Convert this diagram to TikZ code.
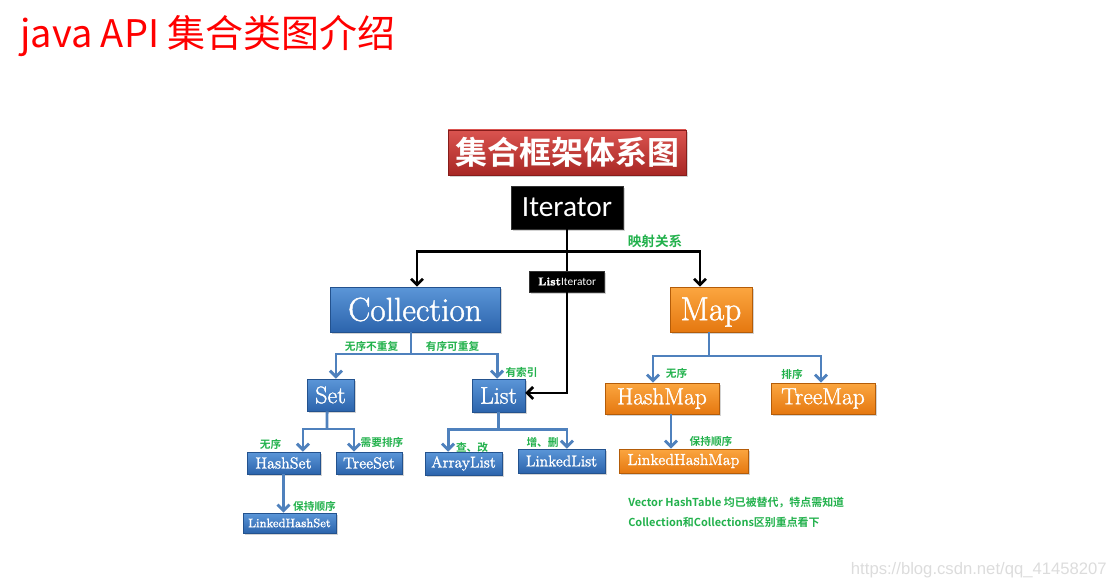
\documentclass[tikz,border=0pt]{standalone}
\usepackage{fontspec}
\usetikzlibrary{arrows.meta,calc,positioning,shadows}
\newfontfamily\cjk{Noto Sans CJK SC}[BoldFont={Noto Sans CJK SC Bold}]
\newfontfamily\calib{Carlito}
\newfontfamily\wmark{Liberation Sans}
\newfontfamily\boxfont{Latin Modern Roman}[FakeBold=1.3]
\definecolor{blueT}{HTML}{5B96D8}
\definecolor{blueB}{HTML}{2C64AC}
\definecolor{blueE}{HTML}{23528E}
\definecolor{orgT}{HTML}{FBA640}
\definecolor{orgB}{HTML}{E57810}
\definecolor{orgE}{HTML}{B45C08}
\definecolor{redT}{HTML}{DA5450}
\definecolor{redB}{HTML}{A82724}
\definecolor{redE}{HTML}{861C1A}
\definecolor{linkblue}{HTML}{4F81BD}
\definecolor{tipgreen}{HTML}{22B14C}
\definecolor{wmgray}{HTML}{DCDCDC}
\tikzset{
  bline/.style={draw=linkblue, line width=2.2pt},
  barr/.style={bline, -{Straight Barb[length=4.5pt,width=9pt]}},
  kline/.style={draw=black, line width=2pt},
  karr/.style={kline, -{Straight Barb[length=4.5pt,width=9pt]}},
  shbox/.style={inner sep=0pt, text=white, drop shadow={shadow xshift=1.2pt, shadow yshift=-1.5pt, opacity=0.35}},
  bluebox/.style={shbox, draw=blueE, top color=blueT, bottom color=blueB},
  orgbox/.style={shbox, draw=orgE, top color=orgT, bottom color=orgB},
  redbox/.style={shbox, draw=redE, top color=redT, bottom color=redB},
  blkbox/.style={shbox, draw=black!80, fill=black},
  tip/.style={text=tipgreen, inner sep=0pt, font=\cjk\bfseries\fontsize{8}{8}\selectfont},
  note/.style={text=tipgreen, inner sep=0pt, anchor=west, font=\cjk\bfseries\fontsize{8.2}{8.2}\selectfont}
}
\newcommand{\fs}[1]{\boxfont\fontsize{#1}{#1}\selectfont}

\begin{document}
\begin{tikzpicture}[x=0.75pt, y=-0.75pt]
  \useasboundingbox (0,0) rectangle (1117,588);
  \node[anchor=west, text=red, inner sep=0pt, font=\cjk\fontsize{28.5}{28.5}\selectfont] (title) at (20,36) {java API 集合类图介绍};

  % top of the tree
  \node[redbox, minimum width=178.5pt, minimum height=33.75pt, font=\cjk\bfseries\fontsize{24}{24}\selectfont] (frame) at (567,152.5) {集合框架体系图};
  \node[blkbox, minimum width=84pt, minimum height=32.25pt, font=\calib\fontsize{22}{22}\selectfont] (iter) at (567,207.5) {Iterator};
  \node[blkbox, minimum width=56.25pt, minimum height=15.75pt, font=\fs{8.5}] (liter) at (567,281.5) {\textbf{List}{\calib Iterator}};
  \node[bluebox, minimum width=127.5pt, minimum height=33.75pt, font=\fs{25}] (coll) at (415,309.5) {Collection};
  \node[orgbox, minimum width=61.5pt, minimum height=33.75pt, font=\fs{25}, text depth=1pt] (map) at (711,309.5) {Map};

  % second row
  \node[bluebox, minimum width=35.25pt, minimum height=24pt, font=\fs{18}] (set) at (330.5,395) {Set};
  \node[bluebox, minimum width=39.75pt, minimum height=24.75pt, font=\fs{18}] (list) at (498.5,395.5) {List};
  \node[orgbox, minimum width=85.5pt, minimum height=23.25pt, font=\fs{17.5}] (hmap) at (662,398.5) {HashMap};
  \node[orgbox, minimum width=78pt, minimum height=23.25pt, font=\fs{17.5}] (tmap) at (823,398.5) {TreeMap};

  % leaves
  \node[bluebox, minimum width=54.75pt, minimum height=16.5pt, font=\fs{12}] (hset) at (283.5,463) {HashSet};
  \node[bluebox, minimum width=49.5pt, minimum height=16.5pt, font=\fs{12}] (tset) at (369,463) {TreeSet};
  \node[bluebox, minimum width=57.75pt, minimum height=17.25pt, font=\fs{11.75}] (alist) at (463.5,463.5) {ArrayList};
  \node[bluebox, minimum width=65.25pt, minimum height=18pt, font=\fs{11.75}] (llist) at (561.5,461) {LinkedList};
  \node[bluebox, minimum width=69.75pt, minimum height=15pt, font=\fs{9.2}] (lhset) at (289.5,523) {LinkedHashSet};
  \node[orgbox, minimum width=96.75pt, minimum height=18pt, font=\fs{12}] (lhmap) at (683.5,461) {LinkedHashMap};

  % Iterator fans out, ListIterator runs down into List
  \coordinate (itj) at ($(iter.south)+(0,22)$);
  \draw[kline] (iter.south) -- (liter.north);
  \draw[karr] (itj) -| ([xshift=1.5pt]coll.north);
  \draw[karr] (itj) -| ([xshift=-8.25pt]map.north);
  \draw[karr] (liter.south) |- ([yshift=1.9pt]list.east);

  % Collection into Set and List
  \coordinate (colj) at (411,354);
  \draw[bline] ([xshift=-3pt]coll.south) -- (colj);
  \draw[barr] (colj) -| ([xshift=4.1pt]set.north);
  \draw[barr] (colj) -| ([xshift=-1.1pt]list.north);

  % Set into HashSet and TreeSet
  \coordinate (setj) at (327,429);
  \draw[bline] ([xshift=-2.6pt]set.south) -- (setj);
  \draw[barr] (setj) -| ([xshift=14.6pt]hset.north);
  \draw[barr] (setj) -| ([xshift=-11.25pt]tset.north);
  \draw[barr] (hset.south) -- (hset.south |- lhset.north);

  % List into ArrayList and LinkedList
  \coordinate (lstj) at ($(list.south)+(0,17)$);
  \draw[bline] (list.south) -- (lstj);
  \draw[barr] (lstj) -| ([xshift=-11.6pt]alist.north);
  \draw[barr] (lstj) -| ([xshift=4.1pt]llist.north);

  % Map into HashMap and TreeMap
  \coordinate (mapj) at (709,356);
  \draw[bline] ([xshift=-1.5pt]map.south) -- (mapj);
  \draw[barr] (mapj) -| ([xshift=-6.75pt]hmap.north);
  \draw[barr] (mapj) -| ([xshift=-1.5pt]tmap.north);
  \coordinate (hmout) at ([xshift=6.75pt]hmap.south);
  \draw[barr] (hmout) -- (hmout |- lhmap.north);

  % green remarks
  \node[tip, font=\cjk\bfseries\fontsize{10.2}{10.2}\selectfont] (tmapping) at (655,241) {映射关系};
  \node[tip] (tunique) at (371.5,346) {无序不重复};
  \node[tip] (trepeat) at (452.5,346) {有序可重复};
  \node[tip] (tindex) at (521.5,372) {有索引};
  \node[tip] (tsetun) at (270.5,444) {无序};
  \node[tip] (tsort) at (382,442) {需要排序};
  \node[tip] (tsetkeep) at (314.5,506) {保持顺序};
  \node[tip] (tquery) at (472,447) {查、改};
  \node[tip] (tadd) at (542.5,442) {增、删};
  \node[tip] (tmapun) at (676.5,373) {无序};
  \node[tip] (tmapsort) at (792,374) {排序};
  \node[tip] (tmapkeep) at (711,441) {保持顺序};
  \node[note] (note1) at (628,503) {Vector HashTable 均已被替代，特点需知道};
  \node[note] (note2) at (628,522) {Collection和Collections区别重点看下};

  \node[anchor=east, text=wmgray, inner sep=0pt, font=\wmark\fontsize{12.5}{12.5}\selectfont] (wm) at (1107,570) {https://blog.csdn.net/qq\_41458207};
\end{tikzpicture}
\end{document}
